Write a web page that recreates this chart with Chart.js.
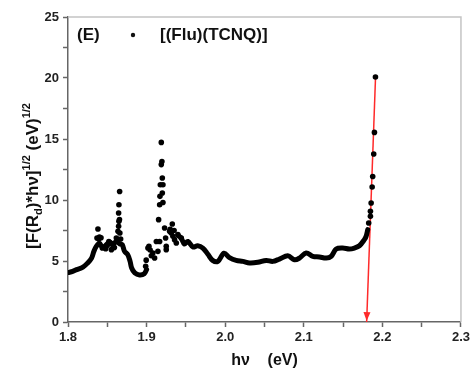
<!DOCTYPE html>
<html>
<head>
<meta charset="utf-8">
<script src="https://cdn.jsdelivr.net/npm/chart.js@4"></script>
<style>
  html, body { margin: 0; padding: 0; background: #fff; }
  #wrap { width: 473px; height: 375px; }
</style>
</head>
<body>
<div id="wrap"><canvas id="chart" width="473" height="375"></canvas></div>
<script>
// continuous parts of the spectrum
const curve1X = [1.800, 1.806, 1.811, 1.819, 1.825, 1.830, 1.833, 1.836, 1.840, 1.844, 1.849, 1.853, 1.857, 1.861, 1.866, 1.869, 1.872, 1.876, 1.879, 1.881, 1.885, 1.891, 1.897, 1.900];
const curve1Y = [4.05, 4.15, 4.29, 4.50, 4.84, 5.24, 5.80, 6.20, 6.45, 6.10, 6.35, 6.55, 6.30, 6.60, 6.40, 6.34, 5.79, 5.52, 4.97, 4.43, 4.02, 3.85, 3.95, 4.30];

const curve2X = [1.940, 1.944, 1.948, 1.9525, 1.959, 1.965, 1.9716, 1.978, 1.984, 1.9907, 1.9985, 2.0055, 2.014, 2.0224, 2.031, 2.0415, 2.0522, 2.0606, 2.069, 2.0797, 2.0882, 2.0945, 2.103, 2.1114, 2.120, 2.1285, 2.1348, 2.1412, 2.1496, 2.158, 2.1644, 2.1708, 2.1771, 2.1793, 2.1814];
const curve2Y = [7.10, 6.88, 6.40, 6.60, 6.15, 6.25, 6.06, 5.55, 5.05, 4.97, 5.64, 5.28, 5.05, 4.97, 4.84, 4.89, 5.05, 4.97, 5.16, 5.43, 5.10, 5.24, 5.66, 5.38, 5.33, 5.24, 5.38, 5.98, 6.06, 5.98, 6.06, 6.25, 6.75, 7.02, 7.57];

// scattered points (clusters, spikes, steep edge)
const dotsX = [1.8369, 1.8381, 1.840, 1.8392, 1.8437, 1.842, 1.848, 1.850, 1.852, 1.8552, 1.8572, 1.855, 1.859, 1.8615,
  1.8636, 1.8644, 1.8648, 1.8644, 1.8648, 1.8657, 1.866, 1.8655, 1.867,
  1.8988, 1.8995, 1.9017, 1.903, 1.9045, 1.906, 1.908, 1.9102, 1.9124, 1.9144, 1.9166,
  1.9153, 1.9166, 1.9208, 1.920, 1.9208, 1.920, 1.9187, 1.9195, 1.9187, 1.917, 1.9175,
  1.9229, 1.9242, 1.925, 1.925, 1.9293, 1.9327, 1.9314, 1.9335, 1.9356, 1.9378, 1.9398, 1.9441, 1.9300, 1.9350,
  2.1826, 2.1848, 2.1848, 2.1857, 2.187, 2.1877, 2.189, 2.1899, 2.1912];
const dotsY = [6.88, 7.62, 6.97, 6.80, 6.06, 6.90, 6.00, 6.30, 6.60, 5.93, 6.34, 6.45, 6.10, 6.89,
  7.43, 7.84, 8.25, 8.93, 9.61, 10.70, 7.30, 8.40, 6.80,
  4.56, 5.07, 6.06, 6.20, 5.90, 5.43, 5.66, 5.24, 6.60, 5.79, 6.60,
  8.39, 9.61, 9.80, 10.57, 11.25, 11.80, 12.90, 13.16, 14.72, 10.30, 11.25,
  7.70, 6.88, 6.20, 5.93, 7.43, 8.03, 7.29, 7.02, 6.75, 6.47, 7.16, 6.88, 7.60, 7.50,
  8.11, 8.66, 9.07, 9.75, 11.07, 11.93, 13.77, 15.54, 20.08];

// linear fit of the absorption edge
const fitX = [2.1914, 2.180];
const fitY = [20.25, 0];

const xTicks = { min: 1.8, max: 2.3, step: 0.05 };
const yTicks = { min: 0, max: 25, step: 2.5 };

function pts(xs, ys) {
  return xs.map((x, i) => ({ x: x, y: ys[i] }));
}

const textPlugin = {
  id: "texts",
  afterDraw(chart) {
    const ctx = chart.ctx;
    const a = chart.chartArea;
    ctx.save();
    // top and right frame
    ctx.strokeStyle = "#c4c4c4";
    ctx.lineWidth = 1.5;
    ctx.beginPath();
    ctx.moveTo(a.left, a.top);
    ctx.lineTo(a.right, a.top);
    ctx.lineTo(a.right, a.bottom);
    ctx.stroke();

    // arrow head at end of fit line
    const xs = chart.scales.x, ys = chart.scales.y;
    const x0 = xs.getPixelForValue(fitX[0]), y0 = ys.getPixelForValue(fitY[0]);
    const x1 = xs.getPixelForValue(fitX[1]), y1 = ys.getPixelForValue(fitY[1]);
    const ang = Math.atan2(y1 - y0, x1 - x0);
    ctx.fillStyle = "#ff2a2a";
    ctx.beginPath();
    ctx.moveTo(x1, y1 - 1);
    ctx.lineTo(x1 - 9 * Math.cos(ang) + 3.5 * Math.sin(ang), y1 - 1 - 9 * Math.sin(ang) - 3.5 * Math.cos(ang));
    ctx.lineTo(x1 - 9 * Math.cos(ang) - 3.5 * Math.sin(ang), y1 - 1 - 9 * Math.sin(ang) + 3.5 * Math.cos(ang));
    ctx.closePath();
    ctx.fill();

    // legend
    ctx.fillStyle = "#111";
    ctx.textBaseline = "middle";
    ctx.textAlign = "left";
    ctx.font = "bold 17px 'Liberation Sans', Arial, sans-serif";
    ctx.fillText("(E)", a.left + 9, a.top + 18);
    ctx.beginPath();
    ctx.arc(a.left + 65, a.top + 18, 2.2, 0, Math.PI * 2);
    ctx.fill();
    ctx.fillText("[(Flu)(TCNQ)]", a.left + 92, a.top + 18);

    // x title
    ctx.textAlign = "center";
    ctx.font = "bold 16px 'Liberation Sans', Arial, sans-serif";
    ctx.fillText("h\u03bd    (eV)", (a.left + a.right) / 2, 361);

    // y title with sub/superscripts
    const big = "bold 17px 'Liberation Sans', Arial, sans-serif";
    const small = "bold 11px 'Liberation Sans', Arial, sans-serif";
    const parts = [
      [big, "[F(R", 0], [small, "d", 4], [big, ")*h\u03bd]", 0], [small, "1/2", -8],
      [big, " (eV)", 0], [small, "1/2", -8]
    ];
    let total = 0;
    parts.forEach(p => { ctx.font = p[0]; total += ctx.measureText(p[1]).width; });
    ctx.translate(33, 176);
    ctx.rotate(-Math.PI / 2);
    ctx.textAlign = "left";
    ctx.textBaseline = "alphabetic";
    let px = -total / 2;
    parts.forEach(p => {
      ctx.font = p[0];
      ctx.fillText(p[1], px, 5 + p[2]);
      px += ctx.measureText(p[1]).width;
    });
    ctx.restore();
  }
};

const tickFont = { family: "'Liberation Sans', Arial, sans-serif", size: 13, weight: "bold" };

new Chart(document.getElementById("chart"), {
  type: "scatter",
  data: {
    datasets: [
      {
        label: "curve1",
        data: pts(curve1X, curve1Y),
        showLine: true,
        borderColor: "#000",
        borderWidth: 5,
        borderCapStyle: "round",
        borderJoinStyle: "round",
        tension: 0.35,
        pointRadius: 0
      },
      {
        label: "curve2",
        data: pts(curve2X, curve2Y),
        showLine: true,
        borderColor: "#000",
        borderWidth: 5,
        borderCapStyle: "round",
        borderJoinStyle: "round",
        tension: 0.35,
        pointRadius: 0
      },
      {
        label: "[(Flu)(TCNQ)]",
        data: pts(dotsX, dotsY),
        backgroundColor: "#000",
        borderWidth: 0,
        pointRadius: 2.8
      },
      {
        label: "fit",
        data: pts(fitX, fitY),
        showLine: true,
        borderColor: "#ff2a2a",
        borderWidth: 1.5,
        pointRadius: 0
      }
    ]
  },
  options: {
    responsive: false,
    animation: false,
    layout: { padding: { top: 17, right: 11, left: 0, bottom: 0 } },
    plugins: { legend: { display: false }, tooltip: { enabled: false } },
    scales: {
      x: {
        type: "linear",
        min: xTicks.min,
        max: xTicks.max,
        afterFit(scale) { scale.height = 53; },
        border: { color: "#666", width: 1.5 },
        grid: { drawOnChartArea: false, tickLength: 5, tickColor: "#666", tickWidth: 1.5 },
        ticks: {
          stepSize: xTicks.step,
          autoSkip: false,
          maxRotation: 0,
          padding: 3,
          color: "#222",
          font: tickFont,
          callback(v) {
            const t = Math.round(v * 100);
            return t % 10 === 0 ? (t / 100).toFixed(1) : "";
          }
        }
      },
      y: {
        min: yTicks.min,
        max: yTicks.max,
        afterFit(scale) { scale.width = 68; },
        border: { color: "#666", width: 1.5 },
        grid: { drawOnChartArea: false, tickLength: 5, tickColor: "#666", tickWidth: 1.5 },
        ticks: {
          stepSize: yTicks.step,
          autoSkip: false,
          padding: 4,
          color: "#222",
          font: tickFont,
          callback(v) {
            const t = Math.round(v * 10);
            return t % 50 === 0 ? String(t / 10) : "";
          }
        }
      }
    }
  },
  plugins: [textPlugin]
});
</script>
</body>
</html>
